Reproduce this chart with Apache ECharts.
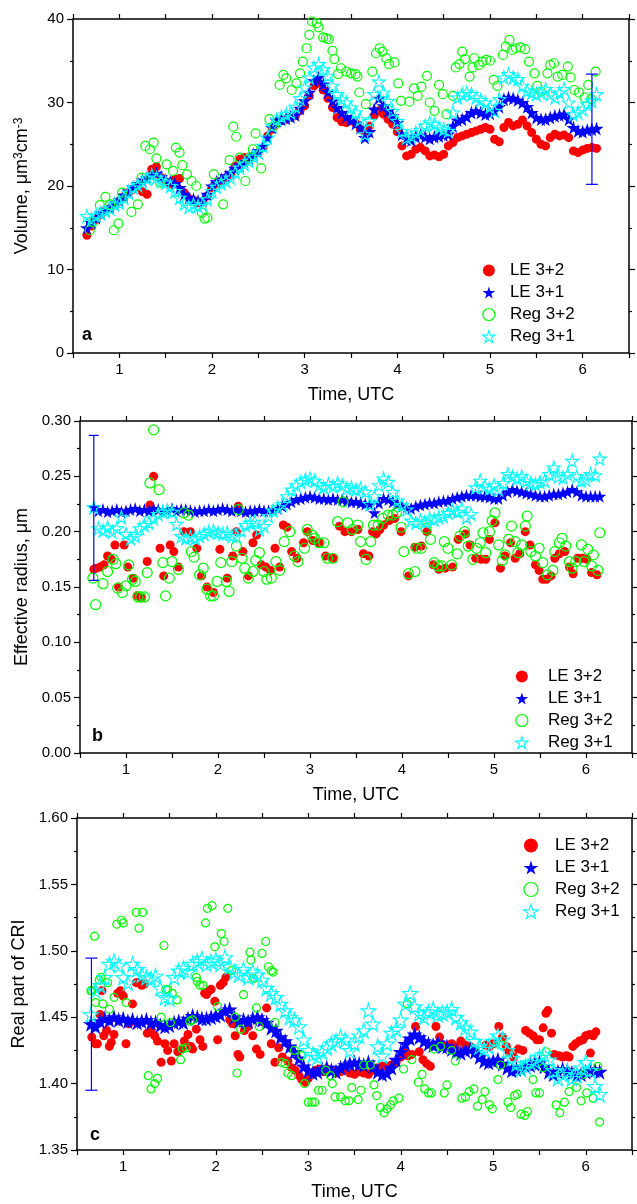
<!DOCTYPE html>
<html>
<head>
<meta charset="utf-8">
<script src="https://cdn.jsdelivr.net/npm/echarts@6/dist/echarts.min.js"></script>
<style>
  html, body { margin: 0; padding: 0; background: #fff; }
  #chart { width: 637px; height: 1204px; }
</style>
</head>
<body>
<div id="chart"></div>
<script>
// time grid (UTC hours) shared by the dense retrievals
const timeGrid = [
  0.65,0.70,0.75,0.80,0.85,0.90,0.95,1.00,1.05,1.10,
  1.15,1.20,1.25,1.30,1.35,1.40,1.45,1.50,1.55,1.60,
  1.65,1.70,1.75,1.80,1.85,1.90,1.95,2.00,2.05,2.10,
  2.15,2.20,2.25,2.30,2.35,2.40,2.45,2.50,2.55,2.60,
  2.65,2.70,2.75,2.80,2.85,2.90,2.95,3.00,3.05,3.10,
  3.15,3.20,3.25,3.30,3.35,3.40,3.45,3.50,3.55,3.60,
  3.65,3.70,3.75,3.80,3.85,3.90,3.95,4.00,4.05,4.10,
  4.15,4.20,4.25,4.30,4.35,4.40,4.45,4.50,4.55,4.60,
  4.65,4.70,4.75,4.80,4.85,4.90,4.95,5.00,5.05,5.10,
  5.15,5.20,5.25,5.30,5.35,5.40,5.45,5.50,5.55,5.60,
  5.65,5.70,5.75,5.80,5.85,5.90,5.95,6.00,6.05,6.10,
  6.15
];

// ---- panel a: volume, um3 cm-3 ----
const volLE32 = [
  14.1,15.2,16.0,16.6,17.0,17.3,17.8,18.2,18.7,19.2,
  19.6,19.9,19.3,19.0,22.0,22.3,21.0,20.5,20.3,20.8,
  20.9,19.2,18.5,18.3,18.0,18.1,18.8,19.8,20.3,20.6,
  21.0,21.4,22.4,23.2,23.4,23.2,23.6,24.0,24.6,26.0,
  26.8,27.6,27.8,28.0,28.2,28.4,29.0,29.6,30.8,32.0,
  32.3,31.5,30.5,29.4,28.2,27.7,27.6,27.8,27.5,26.8,
  26.6,27.2,28.4,29.0,28.6,28.0,27.4,26.5,24.8,23.6,
  23.8,24.4,24.6,24.2,23.6,23.7,23.5,23.8,24.8,25.2,
  25.8,26.0,26.2,26.4,26.6,26.8,27.0,26.8,25.6,25.3,
  27.0,27.6,27.2,27.4,27.9,27.2,26.4,25.6,25.0,24.8,
  25.8,26.2,26.0,26.1,25.8,24.2,24.0,24.3,24.5,24.6,
  24.5
];
const volLE31 = [
  15.0,15.6,16.2,16.8,17.2,17.5,17.9,18.3,18.9,19.4,
  19.9,20.3,20.7,21.0,21.4,21.5,21.1,20.7,20.5,20.3,
  19.8,19.0,18.6,18.4,18.2,18.3,19.0,20.0,20.5,20.8,
  21.2,21.6,22.1,22.5,22.9,23.3,23.8,24.2,24.8,25.8,
  27.0,27.8,28.0,28.1,28.3,28.5,29.3,30.2,31.2,32.6,
  33.0,32.2,31.3,30.2,29.4,28.8,28.3,27.9,27.5,27.0,
  25.8,26.5,29.2,30.5,29.6,29.0,28.4,27.6,26.2,25.6,
  25.5,25.9,26.1,25.9,25.7,25.9,26.0,26.1,26.2,27.2,
  27.9,28.0,28.3,28.8,29.0,28.8,28.6,28.7,29.0,29.5,
  30.4,30.6,30.5,30.3,30.0,29.5,28.8,28.2,28.0,28.0,
  28.2,28.4,28.5,28.6,28.0,27.0,26.6,26.5,26.7,26.8,
  26.9
];
const volReg31 = [
  16.4,16.0,16.5,16.7,17.0,17.3,17.8,18.0,18.6,19.2,
  19.8,20.1,20.4,20.9,21.3,21.0,20.6,20.4,20.0,19.4,
  18.6,17.9,17.5,17.8,17.6,17.8,18.4,19.4,19.9,20.3,
  20.6,21.0,21.6,22.2,22.6,23.0,23.5,24.0,24.8,25.8,
  27.2,28.0,28.3,28.6,28.8,29.5,30.5,31.8,33.0,34.2,
  34.6,34.0,33.2,32.0,31.0,30.4,30.0,29.4,28.8,28.0,
  26.2,27.8,31.0,32.5,31.2,30.2,29.0,27.8,26.6,25.8,
  26.0,26.4,26.7,27.2,27.6,27.4,27.0,26.8,26.6,28.8,
  30.6,31.0,31.2,31.0,30.6,30.3,30.0,29.5,29.0,30.4,
  33.0,33.4,33.0,32.8,32.0,31.4,31.2,31.0,31.2,31.6,
  31.0,30.6,31.2,31.6,30.0,28.6,28.8,29.2,29.8,30.2,
  31.0
];
const volReg32 = [
  [0.68,14.7],[0.72,15.7],[0.79,17.7],[0.85,18.7],[0.90,17.8],[0.94,14.7],[0.99,15.5],[1.03,19.2],
  [1.13,16.9],[1.20,17.8],[1.24,21.0],[1.28,24.8],[1.33,24.4],[1.37,25.2],[1.40,23.3],[1.44,20.4],
  [1.51,22.6],[1.58,21.8],[1.61,24.6],[1.65,24.0],[1.68,22.5],[1.73,21.4],[1.78,20.6],[1.83,20.0],
  [1.89,16.8],[1.92,16.1],[1.95,16.2],[2.02,21.4],[2.12,17.8],[2.19,23.1],[2.23,27.1],[2.26,25.9],
  [2.30,23.4],[2.36,20.6],[2.41,23.4],[2.44,24.4],[2.47,26.3],[2.53,22.1],[2.62,28.0],[2.67,27.2],
  [2.73,32.1],[2.77,33.3],[2.80,32.9],[2.86,31.5],[2.91,32.3],[2.95,33.5],[2.98,34.9],[3.02,36.5],
  [3.05,38.1],[3.08,39.7],[3.13,39.5],[3.15,39.0],[3.20,37.8],[3.23,37.7],[3.26,37.6],[3.30,36.2],
  [3.32,35.2],[3.36,33.4],[3.39,34.1],[3.45,33.7],[3.50,33.5],[3.55,33.4],[3.57,33.1],[3.59,31.2],
  [3.66,29.8],[3.73,33.7],[3.77,35.9],[3.81,36.5],[3.84,36.1],[3.88,35.3],[3.91,34.6],[3.97,34.8],
  [4.01,32.3],[4.04,30.2],[4.13,30.1],[4.18,31.7],[4.22,30.8],[4.26,31.9],[4.32,33.2],[4.35,30.0],
  [4.40,29.0],[4.45,32.1],[4.49,31.0],[4.53,28.6],[4.60,30.8],[4.63,34.2],[4.67,34.6],[4.70,36.1],
  [4.73,35.2],[4.78,33.1],[4.81,34.2],[4.83,35.3],[4.88,34.5],[4.92,34.9],[4.96,35.1],[5.00,35.0],
  [5.04,32.7],[5.08,32.0],[5.14,35.7],[5.17,36.7],[5.21,37.5],[5.24,36.3],[5.28,36.5],[5.33,36.6],
  [5.38,36.4],[5.42,34.9],[5.48,33.5],[5.51,32.0],[5.55,31.3],[5.62,33.5],[5.65,34.5],[5.69,34.7],
  [5.73,33.1],[5.78,33.3],[5.84,34.3],[5.87,33.0],[5.91,31.5],[5.96,31.2],[6.02,30.6],[6.06,32.1],
  [6.09,30.4],[6.14,33.7]
];
const volErr = [[6.10, 20.2, 33.4]];

// ---- panel b: effective radius, um ----
const reffLE32 = [
  [0.65,0.166],[0.68,0.167],[0.72,0.168],[0.76,0.170],[0.80,0.178],[0.84,0.175],[0.88,0.188],[0.92,0.150],
  [0.98,0.188],[1.02,0.168],[1.08,0.158],[1.12,0.142],[1.17,0.140],[1.23,0.173],[1.26,0.224],[1.30,0.250],
  [1.37,0.185],[1.41,0.160],[1.48,0.188],[1.52,0.182],[1.57,0.168],[1.63,0.200],[1.70,0.200],[1.77,0.185],
  [1.82,0.160],[1.88,0.150],[1.95,0.145],[2.02,0.184],[2.10,0.158],[2.16,0.178],[2.20,0.200],[2.22,0.223],
  [2.27,0.182],[2.33,0.160],[2.38,0.190],[2.42,0.197],[2.47,0.170],[2.52,0.168],[2.57,0.165],[2.62,0.185],
  [2.67,0.168],[2.71,0.206],[2.75,0.204],[2.80,0.182],[2.86,0.176],[2.93,0.190],[2.97,0.200],[3.03,0.192],
  [3.10,0.190],[3.17,0.178],[3.25,0.176],[3.32,0.205],[3.38,0.200],[3.45,0.200],[3.52,0.202],[3.58,0.180],
  [3.64,0.178],[3.68,0.200],[3.72,0.198],[3.76,0.202],[3.80,0.206],[3.86,0.210],[3.92,0.212],[3.99,0.200],
  [4.07,0.160],[4.14,0.186],[4.21,0.187],[4.27,0.200],[4.34,0.170],[4.40,0.166],[4.47,0.167],[4.55,0.168],
  [4.61,0.193],[4.69,0.198],[4.74,0.188],[4.80,0.176],[4.86,0.175],[4.91,0.175],[4.95,0.193],[5.01,0.208],
  [5.07,0.167],[5.12,0.178],[5.18,0.190],[5.23,0.176],[5.28,0.180],[5.34,0.200],[5.39,0.188],[5.45,0.170],
  [5.49,0.165],[5.53,0.157],[5.57,0.157],[5.62,0.160],[5.66,0.176],[5.71,0.180],[5.77,0.182],[5.82,0.168],
  [5.86,0.162],[5.91,0.176],[5.96,0.176],[6.01,0.175],[6.06,0.163],[6.12,0.161]
];
const reffLE31 = [
  .222,.219,.220,.218,.219,.220,.218,.219,.220,.221,
  .219,.220,.219,.221,.220,.219,.220,.221,.219,.220,
  .220,.219,.218,.219,.219,.220,.219,.220,.221,.220,
  .219,.220,.219,.218,.219,.219,.220,.219,.219,.220,
  .221,.223,.225,.227,.229,.230,.231,.232,.231,.230,
  .230,.229,.230,.229,.229,.228,.227,.227,.226,.225,
  .224,.217,.226,.230,.229,.227,.225,.223,.222,.221,
  .223,.224,.225,.226,.226,.227,.228,.228,.230,.231,
  .232,.233,.233,.233,.232,.232,.231,.230,.230,.233,
  .236,.238,.237,.236,.235,.234,.233,.232,.232,.233,
  .234,.234,.235,.236,.238,.236,.233,.232,.232,.232,
  .232
];
const reffReg31 = [
  .222,.203,.201,.204,.200,.203,.213,.198,.194,.196,
  .203,.206,.208,.212,.216,.218,.219,.218,.207,.196,
  .194,.195,.194,.196,.198,.200,.201,.199,.198,.199,
  .196,.196,.201,.206,.208,.209,.202,.205,.214,.219,
  .222,.225,.232,.238,.242,.245,.247,.248,.246,.242,
  .240,.243,.241,.244,.242,.239,.240,.238,.239,.236,
  .225,.232,.242,.248,.245,.236,.228,.224,.220,.210,
  .208,.210,.209,.212,.211,.213,.214,.217,.219,.218,
  .221,.213,.216,.240,.246,.241,.239,.242,.238,.244,
  .252,.250,.248,.250,.246,.244,.243,.245,.246,.252,
  .258,.250,.249,.252,.264,.250,.246,.247,.252,.251,
  .266
];
const reffReg32 = [
  [0.64,0.158],[0.67,0.134],[0.75,0.153],[0.80,0.164],[0.86,0.175],[0.89,0.171],[0.91,0.149],[0.96,0.145],
  [1.00,0.151],[1.03,0.170],[1.07,0.157],[1.10,0.155],[1.13,0.141],[1.16,0.141],[1.20,0.141],[1.23,0.163],
  [1.26,0.244],[1.30,0.292],[1.36,0.238],[1.40,0.172],[1.43,0.142],[1.47,0.158],[1.50,0.173],[1.57,0.166],
  [1.63,0.217],[1.68,0.215],[1.71,0.182],[1.74,0.177],[1.80,0.161],[1.84,0.167],[1.88,0.148],[1.92,0.142],
  [1.95,0.142],[1.99,0.155],[2.03,0.172],[2.09,0.155],[2.12,0.146],[2.15,0.173],[2.20,0.187],[2.22,0.220],
  [2.26,0.176],[2.29,0.167],[2.33,0.158],[2.38,0.164],[2.41,0.174],[2.45,0.181],[2.50,0.164],[2.53,0.157],
  [2.58,0.158],[2.63,0.173],[2.67,0.165],[2.72,0.191],[2.78,0.200],[2.83,0.178],[2.87,0.173],[2.94,0.185],
  [2.97,0.202],[3.02,0.197],[3.05,0.194],[3.10,0.190],[3.15,0.190],[3.19,0.176],[3.25,0.176],[3.30,0.209],
  [3.36,0.227],[3.41,0.208],[3.46,0.202],[3.52,0.206],[3.55,0.191],[3.61,0.175],[3.66,0.191],[3.69,0.206],
  [3.74,0.206],[3.79,0.212],[3.85,0.215],[3.90,0.215],[3.94,0.217],[3.99,0.204],[4.02,0.182],[4.07,0.162],
  [4.14,0.164],[4.16,0.185],[4.21,0.185],[4.26,0.203],[4.31,0.193],[4.35,0.172],[4.39,0.169],[4.43,0.169],
  [4.46,0.191],[4.50,0.185],[4.54,0.170],[4.60,0.180],[4.63,0.196],[4.68,0.200],[4.72,0.187],[4.77,0.175],
  [4.81,0.185],[4.85,0.190],[4.88,0.199],[4.91,0.181],[4.95,0.200],[4.98,0.210],[5.01,0.217],[5.05,0.188],
  [5.09,0.174],[5.12,0.179],[5.16,0.193],[5.19,0.205],[5.23,0.191],[5.26,0.181],[5.30,0.188],[5.34,0.205],
  [5.36,0.214],[5.40,0.182],[5.45,0.178],[5.49,0.185],[5.53,0.172],[5.58,0.161],[5.64,0.165],[5.66,0.182],
  [5.71,0.190],[5.74,0.194],[5.78,0.187],[5.82,0.173],[5.85,0.167],[5.89,0.173],[5.95,0.188],[5.98,0.173],
  [6.02,0.184],[6.06,0.169],[6.08,0.179],[6.13,0.165],[6.15,0.199]
];
const reffErr = [[0.65, 0.156, 0.287]];

// ---- panel c: real part of CRI ----
const criLE32 = [
  [0.66,1.435],[0.70,1.430],[0.72,1.430],[0.75,1.452],[0.77,1.470],[0.79,1.436],[0.82,1.440],[0.85,1.428],
  [0.87,1.431],[0.90,1.437],[0.94,1.468],[0.97,1.470],[1.00,1.466],[1.03,1.430],[1.06,1.445],[1.10,1.460],
  [1.14,1.476],[1.16,1.476],[1.20,1.474],[1.23,1.475],[1.26,1.438],[1.30,1.440],[1.34,1.436],[1.37,1.432],
  [1.41,1.416],[1.45,1.430],[1.48,1.425],[1.52,1.417],[1.55,1.430],[1.59,1.424],[1.63,1.426],[1.66,1.432],
  [1.70,1.437],[1.73,1.428],[1.75,1.426],[1.79,1.441],[1.83,1.433],[1.86,1.428],[1.88,1.468],[1.90,1.467],
  [1.93,1.470],[1.95,1.471],[1.99,1.462],[2.02,1.433],[2.05,1.474],[2.08,1.476],[2.11,1.480],[2.15,1.448],
  [2.18,1.445],[2.21,1.436],[2.24,1.422],[2.26,1.420],[2.31,1.440],[2.35,1.443],[2.40,1.436],[2.44,1.426],
  [2.48,1.422],[2.52,1.446],[2.55,1.457],[2.60,1.430],[2.64,1.416],[2.68,1.427],[2.72,1.420],[2.78,1.417],
  [2.82,1.412],[2.86,1.410],[2.90,1.406],[2.93,1.403],[2.97,1.401],[3.00,1.404],[3.04,1.408],[3.08,1.410],
  [3.12,1.411],[3.16,1.409],[3.20,1.411],[3.25,1.410],[3.30,1.408],[3.35,1.409],[3.40,1.410],[3.45,1.408],
  [3.50,1.407],[3.55,1.409],[3.60,1.408],[3.65,1.407],[3.70,1.410],[3.75,1.412],[3.80,1.413],[3.85,1.413],
  [3.90,1.414],[3.95,1.416],[4.00,1.420],[4.04,1.424],[4.08,1.421],[4.12,1.422],[4.16,1.443],[4.20,1.424],
  [4.24,1.418],[4.28,1.415],[4.32,1.413],[4.38,1.443],[4.42,1.435],[4.46,1.429],[4.50,1.428],[4.55,1.430],
  [4.59,1.428],[4.65,1.432],[4.70,1.429],[4.75,1.428],[4.81,1.425],[4.86,1.420],[4.92,1.429],[4.96,1.428],
  [5.00,1.430],[5.06,1.443],[5.10,1.435],[5.14,1.428],[5.17,1.424],[5.22,1.420],[5.27,1.426],[5.32,1.425],
  [5.35,1.440],[5.39,1.438],[5.43,1.436],[5.47,1.433],[5.50,1.433],[5.54,1.442],[5.57,1.453],[5.59,1.455],
  [5.63,1.438],[5.66,1.422],[5.71,1.421],[5.75,1.420],[5.79,1.421],[5.82,1.420],[5.86,1.428],[5.89,1.430],
  [5.93,1.432],[5.97,1.433],[6.00,1.436],[6.04,1.437],[6.05,1.423],[6.08,1.436],[6.11,1.439]
];
const criLE31 = [
  1.445,1.443,1.447,1.449,1.448,1.450,1.448,1.449,1.447,1.448,
  1.446,1.447,1.448,1.446,1.446,1.444,1.443,1.444,1.446,1.447,
  1.446,1.449,1.451,1.450,1.449,1.449,1.450,1.451,1.452,1.455,
  1.456,1.450,1.447,1.448,1.447,1.449,1.450,1.448,1.446,1.442,
  1.440,1.435,1.432,1.428,1.424,1.419,1.413,1.410,1.408,1.409,
  1.411,1.412,1.410,1.409,1.412,1.414,1.415,1.416,1.415,1.414,
  1.416,1.413,1.409,1.407,1.408,1.412,1.418,1.424,1.430,1.434,
  1.437,1.435,1.432,1.430,1.429,1.431,1.428,1.428,1.426,1.424,
  1.423,1.425,1.426,1.424,1.420,1.417,1.416,1.417,1.418,1.415,
  1.412,1.410,1.411,1.412,1.413,1.414,1.415,1.416,1.413,1.409,
  1.407,1.409,1.411,1.410,1.408,1.406,1.407,1.409,1.411,1.410,
  1.409
];
const criReg31 = [
  1.452,1.470,1.474,1.480,1.490,1.492,1.489,1.480,1.476,1.490,
  1.486,1.482,1.480,1.479,1.481,1.472,1.465,1.464,1.480,1.485,
  1.487,1.484,1.490,1.492,1.494,1.490,1.492,1.493,1.490,1.495,
  1.488,1.484,1.482,1.486,1.480,1.484,1.482,1.478,1.472,1.468,
  1.465,1.460,1.455,1.450,1.448,1.443,1.433,1.425,1.422,1.420,
  1.424,1.427,1.430,1.432,1.435,1.433,1.425,1.430,1.436,1.440,
  1.455,1.445,1.428,1.421,1.430,1.438,1.441,1.448,1.460,1.468,
  1.458,1.453,1.450,1.454,1.456,1.452,1.453,1.454,1.456,1.450,
  1.446,1.442,1.439,1.432,1.428,1.426,1.428,1.432,1.436,1.433,
  1.425,1.419,1.415,1.411,1.413,1.416,1.417,1.420,1.422,1.418,
  1.410,1.404,1.407,1.409,1.404,1.406,1.412,1.416,1.410,1.398,
  1.392
];
const criReg32 = [
  [0.65,1.470],[0.66,1.470],[0.69,1.511],[0.70,1.461],[0.74,1.478],[0.76,1.480],[0.78,1.460],[0.83,1.476],
  [0.85,1.456],[0.90,1.465],[0.93,1.520],[0.98,1.523],[1.00,1.521],[1.03,1.461],[1.14,1.529],[1.17,1.517],
  [1.21,1.529],[1.27,1.406],[1.30,1.396],[1.34,1.400],[1.37,1.404],[1.41,1.450],[1.44,1.504],[1.46,1.471],
  [1.48,1.471],[1.51,1.446],[1.53,1.468],[1.58,1.463],[1.62,1.418],[1.64,1.426],[1.68,1.427],[1.72,1.447],
  [1.75,1.448],[1.79,1.480],[1.80,1.477],[1.83,1.474],[1.86,1.474],[1.89,1.521],[1.91,1.532],[1.96,1.534],
  [1.99,1.503],[2.02,1.458],[2.06,1.513],[2.09,1.507],[2.13,1.532],[2.17,1.485],[2.21,1.450],[2.23,1.408],
  [2.27,1.441],[2.30,1.467],[2.37,1.499],[2.38,1.493],[2.41,1.479],[2.44,1.457],[2.47,1.443],[2.50,1.498],
  [2.54,1.507],[2.57,1.488],[2.60,1.485],[2.62,1.484],[2.64,1.446],[2.71,1.416],[2.75,1.415],[2.78,1.408],
  [2.82,1.406],[2.85,1.425],[2.93,1.421],[2.96,1.400],[3.00,1.386],[3.04,1.386],[3.07,1.386],[3.11,1.395],
  [3.15,1.395],[3.19,1.410],[3.24,1.406],[3.26,1.400],[3.29,1.390],[3.35,1.390],[3.40,1.387],[3.44,1.387],
  [3.47,1.397],[3.54,1.388],[3.57,1.395],[3.60,1.414],[3.67,1.414],[3.71,1.399],[3.74,1.391],[3.78,1.382],
  [3.82,1.378],[3.85,1.381],[3.89,1.384],[3.92,1.387],[3.98,1.389],[4.03,1.411],[4.07,1.460],[4.12,1.418],
  [4.19,1.401],[4.23,1.407],[4.26,1.396],[4.30,1.393],[4.33,1.393],[4.36,1.426],[4.43,1.428],[4.47,1.393],
  [4.50,1.399],[4.55,1.425],[4.59,1.417],[4.66,1.389],[4.70,1.390],[4.74,1.394],[4.79,1.396],[4.83,1.383],
  [4.88,1.388],[4.91,1.394],[4.96,1.384],[4.99,1.381],[5.05,1.403],[5.08,1.414],[5.10,1.429],[5.16,1.386],
  [5.19,1.382],[5.23,1.391],[5.26,1.392],[5.30,1.377],[5.34,1.376],[5.37,1.379],[5.43,1.403],[5.46,1.393],
  [5.50,1.393],[5.54,1.412],[5.57,1.424],[5.68,1.384],[5.72,1.378],[5.77,1.386],[5.82,1.394],[5.90,1.397],
  [5.95,1.387],[5.98,1.407],[6.01,1.393],[6.08,1.389],[6.13,1.413],[6.15,1.371]
];
const criErr = [[0.656, 1.395, 1.4945]];

const FONT = "'Liberation Sans', Arial, sans-serif";
const STAR = 'path://M50,0 L61,35 L98,35 L68,57 L79,91 L50,70 L21,91 L32,57 L2,35 L39,35 Z';
const RED = '#ff0000', BLUE = '#0000ff', GREEN = '#00ff00', CYAN = '#00ffff';
const names = ['LE 3+2', 'LE 3+1', 'Reg 3+2', 'Reg 3+1'];

const onGrid = (vals) => timeGrid.map((t, i) => [t, vals[i]]);

const chart = echarts.init(document.getElementById('chart'), null, { renderer: 'canvas' });

const lineStyle = { color: '#000', width: 1.5 };

function xAxes(g) {
  const base = {
    gridIndex: g, type: 'value', min: 0.5, max: 6.5, interval: 0.5,
    axisLine: { show: true, onZero: false, lineStyle },
    axisTick: { show: true, inside: false, length: 5, lineStyle: { color: '#000', width: 1.2 } },
    splitLine: { show: false }
  };
  return [
    Object.assign({}, base, {
      position: 'bottom',
      name: 'Time, UTC', nameLocation: 'middle', nameGap: 33,
      nameTextStyle: { fontFamily: FONT, fontSize: 18, color: '#000' },
      axisLabel: {
        margin: 9, fontFamily: FONT, fontSize: 15, color: '#000',
        formatter: v => Number.isInteger(v) ? String(v) : ''
      }
    }),
    Object.assign({}, base, { position: 'top', axisLabel: { show: false } })
  ];
}

function yAxes(g, min, max, step, digits, name, gap, rich) {
  const base = {
    gridIndex: g, type: 'value', min, max, interval: step,
    axisLine: { show: true, onZero: false, lineStyle },
    axisTick: { show: true, inside: false, length: 6, lineStyle: { color: '#000', width: 1.2 } },
    minorTick: { show: true, splitNumber: 2, length: 3, lineStyle: { color: '#000', width: 1.2 } },
    splitLine: { show: false }, minorSplitLine: { show: false }
  };
  return [
    Object.assign({}, base, {
      position: 'left',
      name, nameLocation: 'middle', nameGap: gap, nameRotate: 90,
      nameTextStyle: { fontFamily: FONT, fontSize: 18, color: '#000', rich },
      axisLabel: {
        margin: 9, fontFamily: FONT, fontSize: 15, color: '#000',
        formatter: v => v.toFixed(digits)
      }
    }),
    Object.assign({}, base, { position: 'right', axisLabel: { show: false } })
  ];
}

function panelSeries(g, red, blue, green, cyan, sizes) {
  const common = { type: 'scatter', xAxisIndex: 2 * g, yAxisIndex: 2 * g, animation: false, emphasis: { disabled: true } };
  return [
    Object.assign({}, common, { name: names[0], data: red, symbol: 'circle', symbolSize: sizes[0],
      itemStyle: { color: RED, opacity: 1 } }),
    Object.assign({}, common, { name: names[1], data: blue, symbol: STAR, symbolSize: sizes[1],
      itemStyle: { color: BLUE, opacity: 1 } }),
    Object.assign({}, common, { name: names[2], data: green, symbol: 'circle', symbolSize: sizes[2],
      itemStyle: { color: 'rgba(255,255,255,0)', borderColor: GREEN, borderWidth: 1.2, opacity: 1 } }),
    Object.assign({}, common, { name: names[3], data: cyan, symbol: STAR, symbolSize: sizes[3],
      itemStyle: { color: 'rgba(255,255,255,0)', borderColor: CYAN, borderWidth: 1.1, opacity: 1 } })
  ];
}

function errorBar(g, data, cap) {
  return {
    type: 'custom', xAxisIndex: 2 * g, yAxisIndex: 2 * g, data, animation: false, z: 5,
    renderItem: (params, api) => {
      const lo = api.coord([api.value(0), api.value(1)]);
      const hi = api.coord([api.value(0), api.value(2)]);
      const st = { stroke: BLUE, lineWidth: 1.2 };
      return {
        type: 'group', children: [
          { type: 'line', shape: { x1: lo[0], y1: lo[1], x2: hi[0], y2: hi[1] }, style: st },
          { type: 'line', shape: { x1: lo[0] - cap, y1: lo[1], x2: lo[0] + cap, y2: lo[1] }, style: st },
          { type: 'line', shape: { x1: hi[0] - cap, y1: hi[1], x2: hi[0] + cap, y2: hi[1] }, style: st }
        ]
      };
    }
  };
}

function legend(left, top, boxW, icon) {
  return {
    orient: 'vertical', left, top, itemGap: 5, itemWidth: boxW, itemHeight: icon,
    selectedMode: false, symbolKeepAspect: true,
    textStyle: { fontFamily: FONT, fontSize: 17, color: '#000' },
    data: [
      { name: names[0], icon: 'circle', itemStyle: { color: RED, opacity: 1 } },
      { name: names[1], icon: STAR, itemStyle: { color: BLUE, opacity: 1 } },
      { name: names[2], icon: 'circle', itemStyle: { color: 'rgba(255,255,255,0)', borderColor: GREEN, borderWidth: 1.2, opacity: 1 } },
      { name: names[3], icon: STAR, itemStyle: { color: 'rgba(255,255,255,0)', borderColor: CYAN, borderWidth: 1.1, opacity: 1 } }
    ]
  };
}

const panelLabel = (text, left, top) => ({
  type: 'text', left, top,
  style: { text, fontFamily: FONT, fontSize: 18, fontWeight: 'bold', fill: '#000' }
});

chart.setOption({
  backgroundColor: '#fff',
  animation: false,
  grid: [
    { left: 73, right: 8, top: 19, height: 334 },
    { left: 80, right: 5, top: 421, height: 332 },
    { left: 77, right: 5, top: 818, height: 332 }
  ],
  xAxis: [].concat(xAxes(0), xAxes(1), xAxes(2)),
  yAxis: [].concat(
    yAxes(0, 0, 40, 10, 0, 'Volume, \u03bcm{sup|3}cm{sup|-3}', 42,
      { sup: { fontFamily: FONT, fontSize: 12, color: '#000', verticalAlign: 'top', lineHeight: 12 } }),
    yAxes(1, 0, 0.30, 0.05, 2, 'Effective radius, \u03bcm', 49),
    yAxes(2, 1.35, 1.60, 0.05, 2, 'Real part of CRI', 46)
  ),
  legend: [
    legend(477, 257, 32, 12),
    legend(510, 663, 42, 12),
    legend(518, 832, 38, 14)
  ],
  graphic: [
    panelLabel('a', 82, 326),
    panelLabel('b', 92, 727),
    panelLabel('c', 90, 1126)
  ],
  series: [].concat(
    panelSeries(0, onGrid(volLE32), onGrid(volLE31), volReg32, onGrid(volReg31), [9, 14, 9, 13]),
    [errorBar(0, volErr, 6)],
    panelSeries(1, reffLE32, onGrid(reffLE31), reffReg32, onGrid(reffReg31), [9, 13, 10, 13]),
    [errorBar(1, reffErr, 5)],
    panelSeries(2, criLE32, onGrid(criLE31), criReg32, onGrid(criReg31), [9, 16, 8, 15]),
    [errorBar(2, criErr, 6)]
  )
});
</script>
</body>
</html>
